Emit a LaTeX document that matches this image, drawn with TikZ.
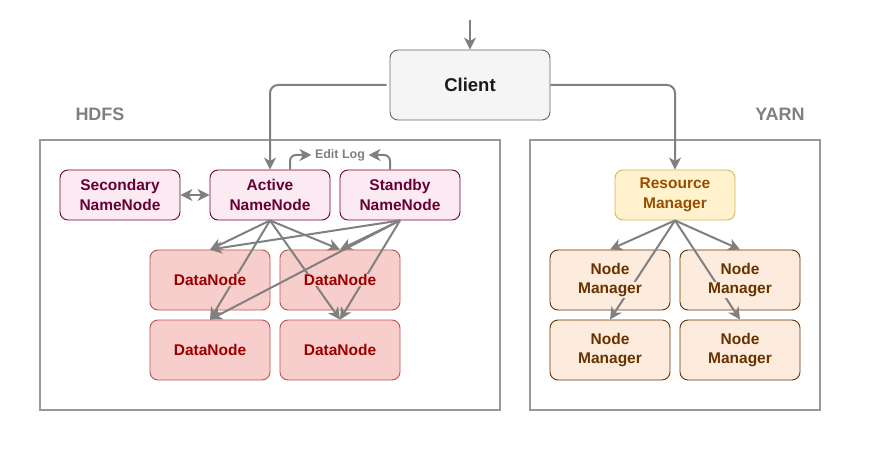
\documentclass[tikz,border=0pt]{standalone}
\usepackage{fontspec}
\setmainfont{Liberation Sans}
\usetikzlibrary{arrows.meta}
\definecolor{edgegrey}{HTML}{808080}
\definecolor{framegrey}{HTML}{999999}
\definecolor{nnfill}{HTML}{FCEAF2}
\definecolor{nnline}{HTML}{6F0037}
\definecolor{nntext}{HTML}{660033}
\definecolor{dnfill}{HTML}{F8CECC}
\definecolor{dnline}{HTML}{B85450}
\definecolor{dntext}{HTML}{990000}
\definecolor{rmfill}{HTML}{FFF2CC}
\definecolor{rmline}{HTML}{D6B656}
\definecolor{rmtext}{HTML}{994C00}
\definecolor{nmfill}{HTML}{FDEBDD}
\definecolor{nmline}{HTML}{663300}
\definecolor{nmtext}{HTML}{663300}
% text line with a patch of the box colour behind it
\newcommand{\patch}[2]{{\setlength{\fboxsep}{0.8pt}\colorbox{#1}{#2}}}
\tikzset{
  hd/.tip={Stealth[length=12pt,width=12pt,inset=3.5pt]},
  box/.style={rectangle, rounded corners=8pt, line width=0.9pt, minimum width=120pt,
    font=\bfseries\fontsize{15.5}{19.5}\selectfont, align=center},
  tag/.style={rectangle, inner sep=0pt, align=center,
    font=\bfseries\fontsize{15.5}{19.5}\selectfont},
  namenode/.style={box, minimum height=50pt, draw=nnline, fill=nnfill, text=nntext},
  datanode/.style={box, minimum height=60pt, draw=dnline, fill=dnfill},
  dntag/.style={tag, text=dntext},
  resmgr/.style={box, minimum height=50pt, draw=rmline, fill=rmfill, text=rmtext},
  nodemgr/.style={box, minimum height=60pt, draw=nmline, fill=nmfill},
  nmtag/.style={tag, text=nmtext},
  frame/.style={draw=framegrey, line width=2pt},
  title/.style={text=edgegrey, font=\bfseries\fontsize{18}{22}\selectfont},
  flow/.style={draw=edgegrey, line width=2pt, -hd},
}
\begin{document}
\begin{tikzpicture}[x=1pt,y=-1pt]
  \useasboundingbox (0,0) rectangle (880,470);
  % clusters
  \draw[frame] (40,140) rectangle (500,410);
  \draw[frame] (530,140) rectangle (820,410);
  \node[title] (hdfs) at (100,114) {HDFS};
  \node[title] (yarn) at (780,114) {YARN};
  % client
  \node[box, minimum width=160pt, minimum height=70pt, draw=black!60, fill=black!4,
        text=black!90, font=\bfseries\fontsize{18.5}{22}\selectfont] (client) at (470,85) {Client};
  \coordinate (in) at (470,20);
  % hdfs
  \node[namenode] (snn) at (120,195) {Secondary\\NameNode};
  \node[namenode] (ann) at (270,195) {Active\\NameNode};
  \node[namenode] (sbn) at (400,195) {Standby\\NameNode};
  \node[text=edgegrey, font=\bfseries\fontsize{12.5}{15}\selectfont] (elog) at (340,155) {Edit Log};
  \node[datanode] (dn1) at (210,280) {};
  \node[datanode] (dn2) at (340,280) {};
  \node[datanode] (dn3) at (210,350) {};
  \node[datanode] (dn4) at (340,350) {};
  % yarn
  \node[resmgr] (rm) at (675,195) {Resource\\Manager};
  \node[nodemgr] (nm1) at (610,280) {};
  \node[nodemgr] (nm2) at (740,280) {};
  \node[nodemgr] (nm3) at (610,350) {};
  \node[nodemgr] (nm4) at (740,350) {};
  % connectors
  \draw[flow] (in) -- (client.north);
  \draw[flow, rounded corners=8pt] ([xshift=-3pt]client.west) -| (ann.north);
  \draw[flow, rounded corners=8pt] (client.east) -| (rm.north);
  \draw[flow, hd-hd] (snn.east) -- (ann.west);
  \draw[flow, rounded corners=6pt] ([xshift=20pt]ann.north) |- (elog.west);
  \draw[flow, rounded corners=6pt] ([xshift=-10pt]sbn.north) |- (elog.east);
  \foreach \d in {dn1,dn2,dn3,dn4} {
    \draw[flow] (ann.south) -- (\d.north);
    \draw[flow] (sbn.south) -- (\d.north);
  }
  \foreach \m in {nm1,nm2,nm3,nm4}
    \draw[flow] (rm.south) -- (\m.north);
  % labels over the connectors
  \foreach \d in {dn1,dn2,dn3,dn4}
    \node[dntag] (\d-tag) at (\d) {\patch{dnfill}{DataNode}};
  \foreach \m in {nm1,nm2,nm3,nm4}
    \node[nmtag] (\m-tag) at (\m) {\patch{nmfill}{Node}\\\patch{nmfill}{Manager}};
\end{tikzpicture}
\end{document}
